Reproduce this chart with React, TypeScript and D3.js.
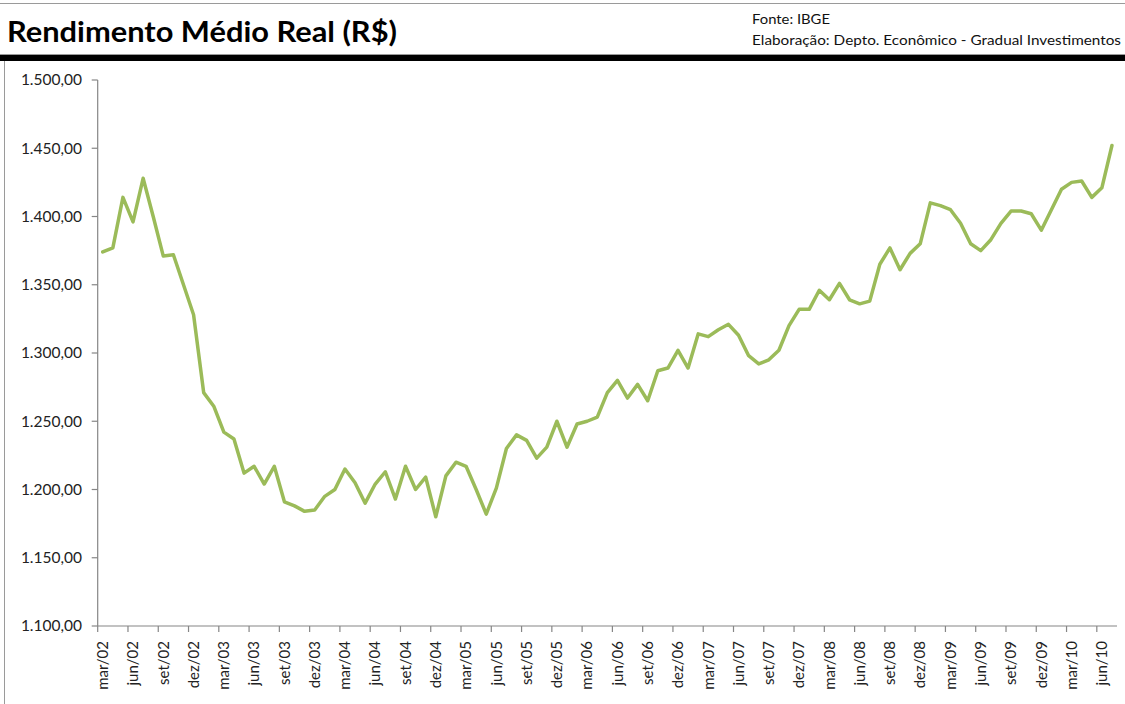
import React from "react";
import * as d3 from "d3";

const MONTHS = ["jan", "fev", "mar", "abr", "mai", "jun", "jul", "ago", "set", "out", "nov", "dez"];

// categories mar/02 .. jul/10
const categories: string[] = [];
for (let y = 2002; y <= 2010; y++) {
  for (let m = 0; m < 12; m++) {
    if (y === 2002 && m < 2) continue;
    if (y === 2010 && m > 6) continue;
    categories.push(`${MONTHS[m]}/${String(y).slice(2)}`);
  }
}

const rendimento: number[] = [
  1374, 1377, 1414, 1396, 1428, 1400, 1371, 1372, 1350, 1328,
  1271, 1261, 1242, 1237, 1212, 1217, 1204, 1217, 1191, 1188,
  1184, 1185, 1195, 1200, 1215, 1205, 1190, 1204, 1213, 1193,
  1217, 1200, 1209, 1180, 1210, 1220, 1217, 1200, 1182, 1201,
  1230, 1240, 1236, 1223, 1231, 1250, 1231, 1248, 1250, 1253,
  1271, 1280, 1267, 1277, 1265, 1287, 1289, 1302, 1289, 1314,
  1312, 1317, 1321, 1313, 1298, 1292, 1295, 1302, 1320, 1332,
  1332, 1346, 1339, 1351, 1339, 1336, 1338, 1365, 1377, 1361,
  1373, 1380, 1410, 1408, 1405, 1395, 1380, 1375, 1383, 1395,
  1404, 1404, 1402, 1390, 1405, 1420, 1425, 1426, 1414, 1421,
  1452,
];

const yTicks: number[] = [1100, 1150, 1200, 1250, 1300, 1350, 1400, 1450, 1500];

const W = 1125;
const H = 704;
const left = 97.7;
const right = 1117;
const top = 80;
const bottom = 626;

const fmt = (v: number) => {
  const s = v.toFixed(2).replace(".", ",");
  const [i, d] = s.split(",");
  return i.replace(/\B(?=(\d{3})+(?!\d))/g, ".") + "," + d;
};

export default function App() {
  const x = d3.scaleBand<string>().domain(categories).range([left, right]).paddingInner(0).paddingOuter(0);
  const y = d3.scaleLinear().domain([1100, 1500]).range([bottom, top]);
  const bw = x.bandwidth();
  const line = d3
    .line<number>()
    .x((_, i) => (x(categories[i]) as number) + bw / 2)
    .y((d) => y(d));

  const tickCats = categories.filter((_, i) => i % 3 === 0 && i < categories.length - 1);
  const axisColor = "#868686";
  const font = "Lato, 'Open Sans', sans-serif";

  return (
    <svg width={W} height={H} style={{ position: "absolute", left: 0, top: 0, background: "#fff" }} fontFamily={font}>
      <rect x={0} y={0} width={W} height={H} fill="#fff" />
      {/* frame lines */}
      <line x1={0} x2={W} y1={3.5} y2={3.5} stroke="#9a9a9a" strokeWidth={1} />
      <line x1={0} x2={W} y1={54.5} y2={54.5} stroke="#9a9a9a" strokeWidth={1} />
      <rect x={0} y={55} width={W} height={6} fill="#000" />
      <line x1={4.5} x2={4.5} y1={61} y2={H} stroke="#9a9a9a" strokeWidth={1} />

      {/* title */}
      <text x={7} y={42} fontSize={28} fontWeight="bold" fill="#000" textLength={390} lengthAdjust="spacingAndGlyphs">
        Rendimento Médio Real (R$)
      </text>
      <text x={752} y={24} fontSize={13} fill="#111" textLength={78} lengthAdjust="spacingAndGlyphs">
        Fonte: IBGE
      </text>
      <text x={752} y={45} fontSize={13} fill="#111" textLength={369} lengthAdjust="spacingAndGlyphs">
        Elaboração: Depto. Econômico - Gradual Investimentos
      </text>

      {/* y axis */}
      <line x1={left} x2={left} y1={top} y2={bottom} stroke={axisColor} strokeWidth={1.2} />
      {yTicks.map((t) => (
        <g key={t}>
          <line x1={left - 6} x2={left} y1={y(t)} y2={y(t)} stroke={axisColor} strokeWidth={1.2} />
          <text x={82} y={y(t)} dy="0.35em" textAnchor="end" fontSize={15.5} fill="#222">
            {fmt(t)}
          </text>
        </g>
      ))}

      {/* x axis */}
      <line x1={left} x2={right} y1={bottom} y2={bottom} stroke={axisColor} strokeWidth={1.2} />
      {tickCats.map((c) => {
        const bx = x(c) as number;
        const cx = bx + bw / 2;
        return (
          <g key={c}>
            <line x1={bx} x2={bx} y1={bottom} y2={bottom + 6} stroke={axisColor} strokeWidth={1.2} />
            <text
              transform={`translate(${cx},${bottom + 15}) rotate(-90)`}
              textAnchor="end"
              dy="0.35em"
              fontSize={15}
              fill="#222"
            >
              {c}
            </text>
          </g>
        );
      })}

      {/* series */}
      <path d={line(rendimento) || ""} fill="none" stroke="#9BBB59" strokeWidth={3.5} strokeLinejoin="round" strokeLinecap="round" />
    </svg>
  );
}
